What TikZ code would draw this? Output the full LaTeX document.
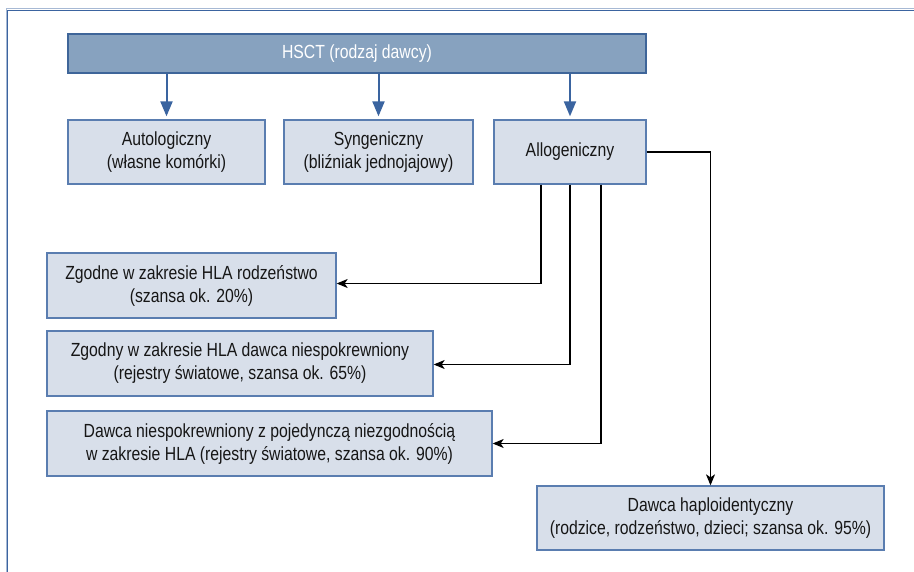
\documentclass[tikz,border=0pt]{standalone}
\usepackage{fontspec}
\setmainfont[FakeStretch=0.83]{Liberation Sans}
\usetikzlibrary{arrows.meta,calc}
\definecolor{frameblue}{HTML}{3B64A0}
\definecolor{topfill}{HTML}{87A2BF}
\definecolor{topdraw}{HTML}{3E6599}
\definecolor{boxfill}{HTML}{D8DFEA}
\definecolor{boxdraw}{HTML}{5A7DB0}
\definecolor{arrblue}{HTML}{3A64A0}
\definecolor{txt}{HTML}{161616}
\tikzset{
  topbox/.style={draw=topdraw,fill=topfill,line width=1.5pt,inner sep=0pt,
    minimum height=39pt,text=white,align=center,font=\fontsize{19}{23}\selectfont},
  lbox/.style={draw=boxdraw,fill=boxfill,line width=1.3pt,inner sep=0pt,
    minimum height=64pt,text=txt,align=center,font=\fontsize{19}{23}\selectfont},
  bluearr/.style={draw=arrblue,line width=2pt,-{Triangle[length=15pt,width=12pt]},shorten >=3pt},
  blackarr/.style={draw=black,line width=1.1pt,-{Stealth[length=11pt,width=9pt,inset=3pt]}}
}
\begin{document}
\begin{tikzpicture}[x=1pt,y=-1pt]
\useasboundingbox (0,0) rectangle (914,572);
\fill[white] (0,0) rectangle (914,572);
\draw[frameblue!45,line width=1pt] (6,572) -- (6,9) -- (914,9);
\draw[frameblue,line width=1.4pt] (7.5,572) -- (7.5,10.5) -- (914,10.5);

\node[topbox,minimum width=578pt] (hsct) at (357,53.5) {HSCT (rodzaj dawcy)};
\node[lbox,minimum width=197pt] (auto) at (166.5,152) {Autologiczny\\(własne komórki)};
\node[lbox,minimum width=189pt] (syn) at (378.5,152) {Syngeniczny\\(bliźniak jednojajowy)};
\node[lbox,minimum width=152pt] (allo) at (570,152) {Allogeniczny};

\node[lbox,minimum width=289pt,minimum height=65pt] (z1) at (191.5,285.5) {Zgodne w zakresie HLA rodzeństwo\\(szansa ok. 20\%)};
\node[lbox,minimum width=386pt,minimum height=65pt] (z2) at (240,363.5) {Zgodny w zakresie HLA dawca niespokrewniony\\(rejestry światowe, szansa ok. 65\%)};
\node[lbox,minimum width=445pt,minimum height=65pt] (z3) at (269.5,443.5) {Dawca niespokrewniony z pojedynczą niezgodnością\\w zakresie HLA (rejestry światowe, szansa ok. 90\%)};
\node[lbox,minimum width=347pt] (hap) at (710.5,518) {Dawca haploidentyczny\\(rodzice, rodzeństwo, dzieci; szansa ok. 95\%)};

\draw[bluearr] (hsct.south -| auto.north) -- (auto.north);
\draw[bluearr] (hsct.south -| syn.north) -- (syn.north);
\draw[bluearr] (hsct.south -| allo.north) -- (allo.north);

\draw[blackarr] ([xshift=-29pt]allo.south) |- ([yshift=2pt]z1.east);
\draw[blackarr] (allo.south) |- ([yshift=-1pt]z2.east);
\draw[blackarr] ([xshift=31pt]allo.south) |- (z3.east);
\draw[blackarr] (allo.east) -| (hap.north);
\end{tikzpicture}
\end{document}
